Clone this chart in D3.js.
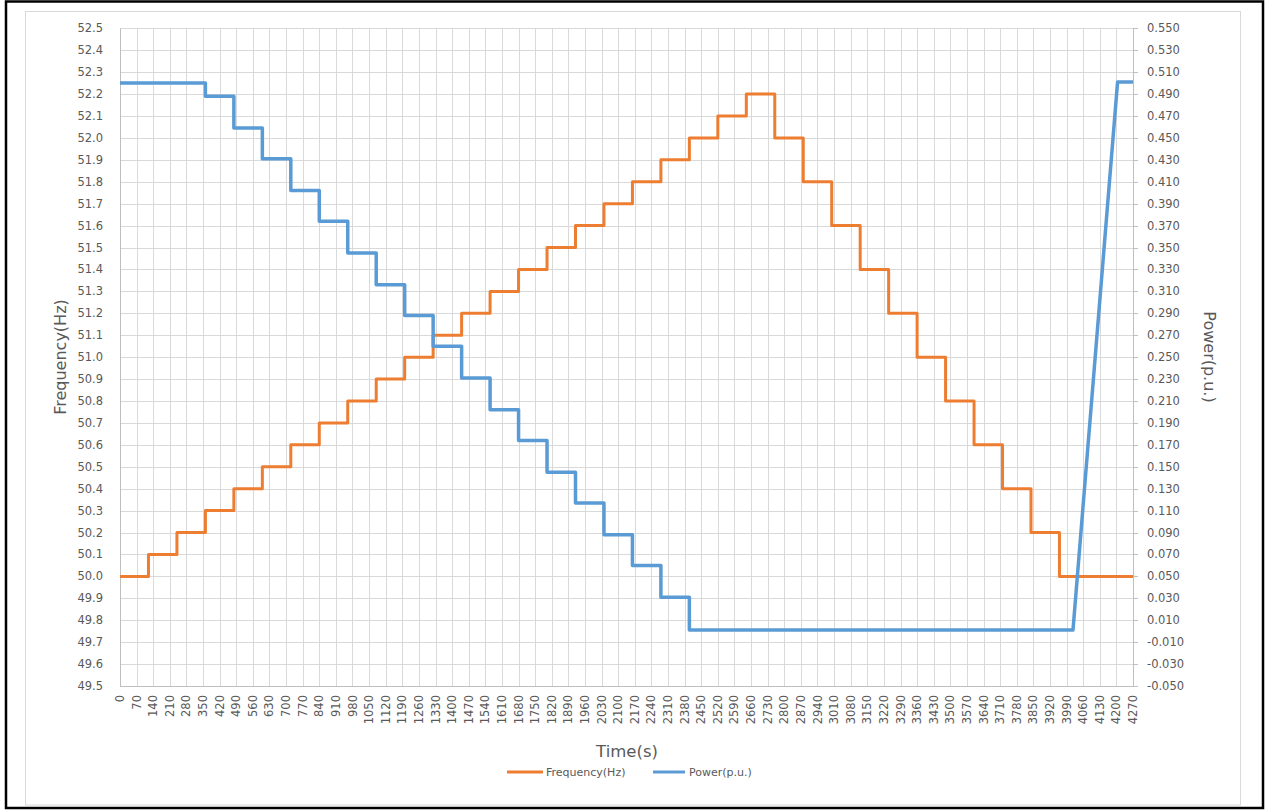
<!DOCTYPE html>
<html>
<head>
<meta charset="utf-8">
<script src="https://cdn.jsdelivr.net/npm/d3@7"></script>
<style>
  html, body { margin: 0; padding: 0; background: #fff; }
  svg { display: block; }
  text { font-family: "DejaVu Sans", sans-serif; fill: #595959; }
</style>
</head>
<body>
<script>
// ---------- DATA ----------
// Frequency step changes (time in s where each level starts; last entry = end of record)
const freqTime = [0,120,240,360,480,600,720,840,960,1080,1200,1320,1440,1560,1680,1800,1920,2040,2160,2280,2400,2520,2640,2760,2880,3000,3120,3240,3360,3480,3600,3720,3840,3960,4270];
const freqVal  = [50.0,50.1,50.2,50.3,50.4,50.5,50.6,50.7,50.8,50.9,51.0,51.1,51.2,51.3,51.4,51.5,51.6,51.7,51.8,51.9,52.0,52.1,52.2,52.0,51.8,51.6,51.4,51.2,51.0,50.8,50.6,50.4,50.2,50.0,50.0];

// Power step levels (p.u.), each holding from powerTime[i] to powerTime[i+1]
const powerTime = [0,360,480,600,720,840,960,1080,1200,1320,1440,1560,1680,1800,1920,2040,2160,2280,2400,4017];
const powerStep = [0.500,0.488,0.459,0.431,0.402,0.374,0.345,0.316,0.288,0.260,0.231,0.202,0.174,0.145,0.117,0.088,0.060,0.031,0.001];
// Final ramp back to rated power
const rampTime = [4017, 4205, 4270];
const rampVal  = [0.001, 0.501, 0.501];

// Axis ticks
const xTicks = d3.range(0, 4271, 70);
const freqTicks = d3.range(0, 31).map(i => +(49.5 + i * 0.1).toFixed(1));
const powerTicks = d3.range(0, 31).map(i => +(-0.05 + i * 0.02).toFixed(3));

const seriesNames = ["Frequency(Hz)", "Power(p.u.)"];
const seriesColors = ["#ED7D31", "#5B9BD5"];

// ---------- LAYOUT ----------
const W = 1269, H = 810;
const plot = { left: 120, right: 1133, top: 28.3, bottom: 686 };

const svg = d3.select("body").append("svg").attr("width", W).attr("height", H);

// outer frames
svg.append("rect").attr("x", 6).attr("y", 1.5).attr("width", 1257).attr("height", 806.5)
  .attr("fill", "none").attr("stroke", "#000").attr("stroke-width", 2.5);
svg.append("rect").attr("x", 25.5).attr("y", 11.5).attr("width", 1215).attr("height", 793.5)
  .attr("fill", "#fff").attr("stroke", "#d9d9d9").attr("stroke-width", 1);

const x = d3.scaleLinear().domain([0, 4270]).range([plot.left, plot.right]);
const yF = d3.scaleLinear().domain([49.5, 52.5]).range([plot.bottom, plot.top]);
const yP = d3.scaleLinear().domain([-0.05, 0.55]).range([plot.bottom, plot.top]);

// gridlines
const grid = svg.append("g");
grid.selectAll("line.v").data(xTicks).join("line")
  .attr("x1", d => Math.round(x(d)) + 0.5).attr("x2", d => Math.round(x(d)) + 0.5)
  .attr("y1", plot.top).attr("y2", plot.bottom)
  .attr("stroke", "#d9d9d9").attr("stroke-width", 1);
grid.selectAll("line.h").data(freqTicks).join("line")
  .attr("x1", plot.left).attr("x2", plot.right)
  .attr("y1", d => Math.round(yF(d)) + 0.5).attr("y2", d => Math.round(yF(d)) + 0.5)
  .attr("stroke", "#d9d9d9").attr("stroke-width", 1);

// axis lines
svg.append("line").attr("x1", plot.left).attr("x2", plot.right)
  .attr("y1", Math.round(plot.bottom) + 0.5).attr("y2", Math.round(plot.bottom) + 0.5)
  .attr("stroke", "#bfbfbf");
svg.append("line").attr("x1", Math.round(plot.left) + 0.5).attr("x2", Math.round(plot.left) + 0.5)
  .attr("y1", plot.top).attr("y2", plot.bottom).attr("stroke", "#bfbfbf");
svg.append("line").attr("x1", Math.round(plot.right) + 0.5).attr("x2", Math.round(plot.right) + 0.5)
  .attr("y1", plot.top).attr("y2", plot.bottom).attr("stroke", "#bfbfbf");

// left axis labels
svg.append("g").selectAll("text").data(freqTicks).join("text")
  .attr("x", 103).attr("y", d => yF(d)).attr("dy", "0.35em")
  .attr("text-anchor", "end").style("font-size", "11.5px")
  .text(d => d.toFixed(1));

// right axis ticks + labels
svg.append("g").selectAll("line").data(powerTicks).join("line")
  .attr("x1", plot.right).attr("x2", plot.right + 5)
  .attr("y1", d => Math.round(yP(d)) + 0.5).attr("y2", d => Math.round(yP(d)) + 0.5)
  .attr("stroke", "#bfbfbf");
svg.append("g").selectAll("text").data(powerTicks).join("text")
  .attr("x", 1147).attr("y", d => yP(d)).attr("dy", "0.35em")
  .attr("text-anchor", "start").style("font-size", "11.5px")
  .text(d => d.toFixed(3));

// bottom axis labels (rotated)
svg.append("g").selectAll("text").data(xTicks).join("text")
  .attr("transform", d => `translate(${x(d)},695) rotate(-90)`)
  .attr("dy", "0.35em").attr("text-anchor", "end").style("font-size", "11.5px")
  .text(d => d);

// axis titles
svg.append("text").attr("transform", "translate(66,357) rotate(-90)")
  .attr("text-anchor", "middle").style("font-size", "16px").text("Frequency(Hz)");
svg.append("text").attr("transform", "translate(1204,357) rotate(90)")
  .attr("text-anchor", "middle").style("font-size", "16px").text("Power(p.u.)");
svg.append("text").attr("x", 627).attr("y", 757)
  .attr("text-anchor", "middle").style("font-size", "16.5px").text("Time(s)");

// ---------- SERIES ----------
const freqPts = freqTime.map((t, i) => [t, freqVal[i]]);
const freqLine = d3.line().x(d => x(d[0])).y(d => yF(d[1])).curve(d3.curveStepAfter);

const powerPts = [];
powerStep.forEach((v, i) => { powerPts.push([powerTime[i], v]); powerPts.push([powerTime[i + 1], v]); });
rampTime.forEach((t, i) => powerPts.push([t, rampVal[i]]));
const powerLine = d3.line().x(d => x(d[0])).y(d => yP(d[1]));

svg.append("path").datum(freqPts).attr("d", freqLine)
  .attr("fill", "none").attr("stroke", seriesColors[0]).attr("stroke-width", 3)
  .attr("stroke-linejoin", "round");
svg.append("path").datum(powerPts).attr("d", powerLine)
  .attr("fill", "none").attr("stroke", seriesColors[1]).attr("stroke-width", 3.5)
  .attr("stroke-linejoin", "round");

// ---------- LEGEND ----------
const legendItems = [
  { name: seriesNames[0], color: seriesColors[0], x1: 507, x2: 543, tx: 546 },
  { name: seriesNames[1], color: seriesColors[1], x1: 653, x2: 685, tx: 689 }
];
const lg = svg.append("g");
legendItems.forEach(it => {
  lg.append("line").attr("x1", it.x1).attr("x2", it.x2).attr("y1", 772).attr("y2", 772)
    .attr("stroke", it.color).attr("stroke-width", 3);
  lg.append("text").attr("x", it.tx).attr("y", 772).attr("dy", "0.35em")
    .style("font-size", "11px").text(it.name);
});
</script>
</body>
</html>
